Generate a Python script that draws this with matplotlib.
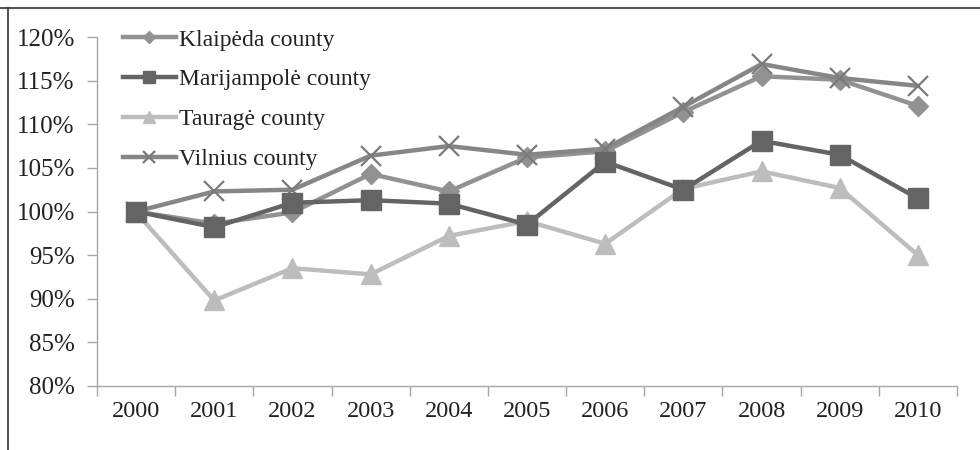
import matplotlib
matplotlib.use("Agg")
import matplotlib.pyplot as plt
from matplotlib.lines import Line2D
from matplotlib.ticker import FixedLocator, NullFormatter

plt.rcParams['font.family'] = ['Liberation Serif', 'DejaVu Serif']

years = ['2000', '2001', '2002', '2003', '2004', '2005', '2006', '2007', '2008', '2009', '2010']
klaipeda = [100.0, 98.6, 99.9, 104.3, 102.3, 106.2, 106.9, 111.4, 115.5, 115.1, 112.1]
marijampole = [100.0, 98.2, 101.0, 101.3, 100.9, 98.5, 105.7, 102.5, 108.1, 106.5, 101.5]
taurage = [99.9, 89.8, 93.5, 92.8, 97.2, 98.9, 96.3, 102.6, 104.6, 102.7, 95.0]
vilnius = [100.0, 102.3, 102.5, 106.4, 107.5, 106.5, 107.2, 112.0, 116.9, 115.3, 114.4]
labels = ['Klaipėda county', 'Marijampolė county', 'Tauragė county', 'Vilnius county']
yticks = [80, 85, 90, 95, 100, 105, 110, 115, 120]

fig = plt.figure(figsize=(9.8, 4.5), dpi=100)
ax = fig.add_axes([97/980, 1-386/450, (957-97)/980, (386-37)/450])

x = list(range(len(years)))
h1, = ax.plot(x, klaipeda, color='#929292', lw=3.2, marker='D', ms=10.5, mec='#929292', mfc='#929292', zorder=3)
h2, = ax.plot(x, marijampole, color='#646464', lw=3.2, marker='s', ms=14, mec='#646464', mfc='#646464', zorder=4)
h3, = ax.plot(x, taurage, color='#bdbdbd', lw=3.2, marker='^', ms=15, mec='#bdbdbd', mfc='#bdbdbd', zorder=2)
h4, = ax.plot(x, vilnius, color='#868686', lw=3.2, marker='x', ms=14, mew=1.6, mec='#7a7a7a', zorder=3)

ax.set_xlim(-0.5, len(years)-0.5)
ax.set_ylim(80, 120)
ax.set_yticks(yticks)
ax.set_yticklabels([f'{v}%' for v in yticks])
ax.set_xticks(x)
ax.set_xticklabels(years)
ax.xaxis.set_minor_locator(FixedLocator([i - 0.5 for i in range(len(years)+1)]))
ax.xaxis.set_minor_formatter(NullFormatter())
ax.tick_params(axis='x', which='major', length=0, pad=11, labelsize=17.5, colors='#222222')
ax.tick_params(axis='x', which='minor', length=7, width=1, color='#a8a8a8')
ax.tick_params(axis='y', length=7, width=1, color='#a8a8a8', pad=9, labelsize=18, labelcolor='#222222')
for s in ['top', 'right']:
    ax.spines[s].set_visible(False)
for s in ['left', 'bottom']:
    ax.spines[s].set_color('#a8a8a8')
    ax.spines[s].set_linewidth(1)

leg = ax.legend([h1, h2, h3, h4], labels, loc='upper left', bbox_to_anchor=(0.019, 1.05),
                frameon=False, fontsize=17, handlelength=2.25, handletextpad=0.12,
                labelspacing=0.78, markerscale=0.6, borderaxespad=0)
for t in leg.get_texts():
    t.set_color('#222222')

fig.add_artist(Line2D([0, 1], [1-7.5/450, 1-7.5/450], transform=fig.transFigure, color='#555555', lw=1.5))
fig.add_artist(Line2D([8/980, 8/980], [0, 1-7.5/450], transform=fig.transFigure, color='#333333', lw=1.2))

fig.savefig('out.png', dpi=100)
